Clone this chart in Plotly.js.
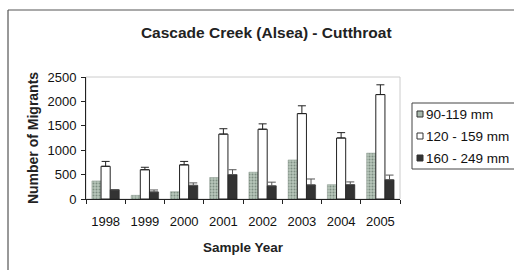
<!DOCTYPE html>
<html>
<head>
<meta charset="utf-8">
<script src="https://cdn.plot.ly/plotly-3.0.1.min.js"></script>
<style>html,body{margin:0;padding:0;background:#fff;overflow:hidden;}#chart{width:514px;height:270px;}</style>
</head>
<body>
<div id="chart"></div>
<script>
var years = ['1998','1999','2000','2001','2002','2003','2004','2005'];
var small = [370, 75, 150, 440, 550, 800, 295, 940];
var medium = [670, 600, 700, 1330, 1430, 1750, 1250, 2140];
var mediumErr = [100, 50, 70, 110, 110, 160, 110, 200];
var large = [190, 145, 280, 500, 270, 290, 295, 395];
var largeErr = [0, 40, 50, 100, 75, 120, 55, 95];
var seriesNames = ['90-119 mm', '120 - 159 mm', '160 - 249 mm'];

var greenMarker = {color:'#b3c2b6', line:{color:'#8a998e', width:0.5},
  pattern:{shape:'.', fgcolor:'#7d8e82', bgcolor:'#b8c7bb', size:3, solidity:0.35}};

var traces = [
  {type:'bar', x: years, y: small, name: seriesNames[0], marker: greenMarker},
  {type:'bar', x: years, y: medium, name: seriesNames[1],
   marker:{color:'#ffffff', line:{color:'#222', width:1}},
   error_y:{type:'data', array: mediumErr, symmetric:false, arrayminus: mediumErr.map(function(){return 0;}), color:'#222', thickness:1, width:4}},
  {type:'bar', x: years, y: large, name: seriesNames[2],
   marker:{color:'#333333', line:{color:'#222', width:0.5}},
   error_y:{type:'data', array: largeErr, symmetric:false, arrayminus: largeErr.map(function(){return 0;}), color:'#555', thickness:1, width:4}}
];

// plot area in pixels: x 86..400, y 77..199
function px2x(px){ return (px - 86) / 314; }
function px2y(py){ return (199 - py) / 122; }

var legendRows = [114, 136, 158];
var legendFill = ['#a9b9ad', '#ffffff', '#333333'];
var shapes = [
  {type:'rect', xref:'paper', yref:'paper', x0:0, x1:1, y0:0, y1:1, line:{color:'#cccccc', width:1}, layer:'below'},
  {type:'line', xref:'paper', yref:'paper', x0:px2x(8), x1:px2x(8), y0:px2y(275), y1:px2y(10), line:{color:'#333', width:1}},
  {type:'line', xref:'paper', yref:'paper', x0:px2x(8), x1:px2x(520), y0:px2y(10), y1:px2y(10), line:{color:'#555', width:1}},
  {type:'rect', xref:'paper', yref:'paper', x0:px2x(412), x1:px2x(530), y0:px2y(169), y1:px2y(103), line:{color:'#444', width:1}, fillcolor:'#fff'}
];
var annotations = [];
seriesNames.forEach(function(n, i){
  var cy = legendRows[i];
  shapes.push({type:'rect', xref:'paper', yref:'paper', x0:px2x(417), x1:px2x(423), y0:px2y(cy+3), y1:px2y(cy-3),
    line:{color:'#333', width:1}, fillcolor:legendFill[i]});
  annotations.push({xref:'paper', yref:'paper', x:px2x(424), y:px2y(cy), xanchor:'left', yanchor:'middle',
    text:n, showarrow:false, font:{size:13.5, color:'#111'}});
});

var layout = {
  width:514, height:270,
  margin:{l:86, r:114, t:77, b:71},
  paper_bgcolor:'#fff', plot_bgcolor:'#fff',
  font:{family:'Liberation Sans, Arial, sans-serif', size:13, color:'#111'},
  title:{text:'<b>Cascade Creek (Alsea) - Cutthroat</b>', font:{size:15.5, color:'#222'}, x:0.518, xanchor:'center', y:0.88, yanchor:'middle'},
  barmode:'group', bargap:0.3, bargroupgap:0,
  showlegend:false,
  xaxis:{type:'category', showline:true, linecolor:'#222', linewidth:1, ticks:'outside', tickson:'boundaries', ticklen:4, tickcolor:'#222',
    tickfont:{size:13, color:'#111'}, ticklabelstandoff:10, showgrid:false,
    title:{text:'<b>Sample Year</b>', font:{size:13.5, color:'#222'}, standoff:14}},
  yaxis:{range:[0,2500], dtick:500, showline:true, linecolor:'#222', linewidth:1, ticks:'outside', ticklen:4, tickcolor:'#222',
    tickfont:{size:13, color:'#111'}, ticklabelstandoff:2, showgrid:false, zeroline:false,
    title:{text:'<b>Number of Migrants</b>', font:{size:14, color:'#222'}, standoff:5}},
  shapes: shapes,
  annotations: annotations
};

Plotly.newPlot('chart', traces, layout, {displayModeBar:false, staticPlot:true});
</script>
</body>
</html>
